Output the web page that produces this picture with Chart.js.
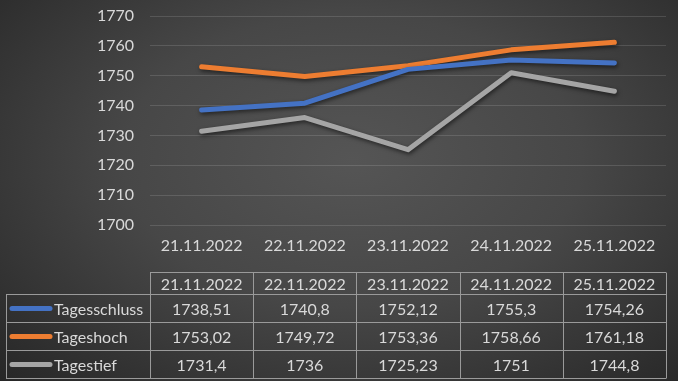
<!DOCTYPE html>
<html>
<head>
<meta charset="utf-8">
<script src="https://cdn.jsdelivr.net/npm/chart.js@4"></script>
<style>
  html, body { margin: 0; padding: 0; }
  body {
    width: 678px; height: 381px; overflow: hidden;
    background: radial-gradient(ellipse 75% 85% at 52% 42%, #555555 0%, #474747 45%, #2e2e2e 85%, #252525 100%);
  }
  #wrap { width: 678px; height: 381px; position: relative; }
</style>
</head>
<body>
<div id="wrap"><canvas id="myChart"></canvas></div>
<script>
const days = ["21.11.2022", "22.11.2022", "23.11.2022", "24.11.2022", "25.11.2022"];
const tagesschluss = [1738.51, 1740.8, 1752.12, 1755.3, 1754.26];
const tageshoch = [1753.02, 1749.72, 1753.36, 1758.66, 1761.18];
const tagestief = [1731.4, 1736, 1725.23, 1751, 1744.8];
const seriesNames = ["Tagesschluss", "Tageshoch", "Tagestief"];
const seriesColors = ["#4472c4", "#ed7d31", "#a5a5a5"];
const yTicks = [1700, 1710, 1720, 1730, 1740, 1750, 1760, 1770];

const FONT = "Lato, 'Noto Sans', sans-serif";
const textColor = "#d9d9d9";

function fmt(v) {
    return String(v).replace(".", ",");
}

// soft shadow under the lines, like in Excel
const shadowPlugin = {
    id: "lineShadow",
    beforeDatasetsDraw(chart) {
        let ctx = chart.ctx;
        ctx.save();
        ctx.shadowColor = "rgba(0,0,0,0.55)";
        ctx.shadowBlur = 4;
        ctx.shadowOffsetX = 1;
        ctx.shadowOffsetY = 2;
    },
    afterDatasetsDraw(chart) {
        chart.ctx.restore();
    }
};

// data table under the x axis
const tablePlugin = {
    id: "dataTable",
    afterDraw(chart) {
        let ctx = chart.ctx;
        let xs = chart.scales.x;
        let area = chart.chartArea;
        let colW = (area.right - area.left) / days.length;
        let left = 6;
        let headTop = 272.5, headBot = 294.5;
        let rowH = 28;
        let rows = [tagesschluss, tageshoch, tagestief];
        let bottom = headBot + rows.length * rowH;

        ctx.save();
        ctx.strokeStyle = "#9a9a9a";
        ctx.lineWidth = 1;
        ctx.beginPath();
        ctx.moveTo(area.left, headTop); ctx.lineTo(area.right, headTop);
        for (let r = 0; r <= rows.length; r++) {
            let y = headBot + r * rowH;
            ctx.moveTo(left, y); ctx.lineTo(area.right, y);
        }
        ctx.moveTo(left + 0.5, headBot); ctx.lineTo(left + 0.5, bottom);
        for (let i = 0; i <= days.length; i++) {
            let x = Math.round(area.left + i * colW) + 0.5;
            ctx.moveTo(x, headTop); ctx.lineTo(x, bottom);
        }
        ctx.stroke();

        ctx.font = "16px " + FONT;
        ctx.fillStyle = textColor;
        ctx.textAlign = "center";
        ctx.textBaseline = "middle";
        days.forEach((d, i) => {
            ctx.fillText(d, xs.getPixelForValue(i), (headTop + headBot) / 2 + 1);
        });
        rows.forEach((vals, r) => {
            let cy = headBot + r * rowH + rowH / 2 + 1;
            vals.forEach((v, i) => {
                ctx.fillText(fmt(v), xs.getPixelForValue(i), cy);
            });
            // legend key
            ctx.strokeStyle = seriesColors[r];
            ctx.lineWidth = 5;
            ctx.lineCap = "round";
            ctx.beginPath();
            ctx.moveTo(12, cy - 1);
            ctx.lineTo(50, cy - 1);
            ctx.stroke();
            ctx.textAlign = "left";
            ctx.fillText(seriesNames[r], 54, cy);
            ctx.textAlign = "center";
        });
        ctx.restore();
    }
};

const data = [tagesschluss, tageshoch, tagestief];

new Chart("myChart", {
    type: "line",
    data: {
        labels: days,
        datasets: seriesNames.map((name, i) => ({
            label: name,
            data: data[i],
            borderColor: seriesColors[i],
            backgroundColor: seriesColors[i],
            borderWidth: 5,
            borderCapStyle: "round",
            borderJoinStyle: "round",
            pointRadius: 0,
            tension: 0
        }))
    },
    options: {
        responsive: true,
        maintainAspectRatio: false,
        animation: false,
        layout: { padding: { top: 16, right: 12, left: 0, bottom: 0 } },
        plugins: {
            legend: { display: false },
            tooltip: { enabled: false }
        },
        scales: {
            x: {
                offset: true,
                grid: { display: false, drawTicks: false },
                border: { display: false },
                ticks: {
                    color: textColor,
                    font: { family: FONT, size: 16 },
                    padding: 11,
                    maxRotation: 0
                },
                afterFit(scale) { scale.height = 156; scale.paddingLeft = 0; scale.paddingRight = 0; }
            },
            y: {
                min: 1700,
                max: 1770,
                afterBuildTicks(scale) { scale.ticks = yTicks.map(v => ({ value: v })); },
                grid: { color: "rgba(255,255,255,0.13)", lineWidth: 1, drawTicks: false },
                border: { display: false },
                ticks: {
                    color: textColor,
                    font: { family: FONT, size: 16 },
                    padding: 16,
                    callback: v => String(v)
                },
                afterFit(scale) { scale.width = 150; scale.paddingTop = 0; scale.paddingBottom = 0; }
            }
        }
    },
    plugins: [shadowPlugin, tablePlugin]
});
</script>
</body>
</html>
